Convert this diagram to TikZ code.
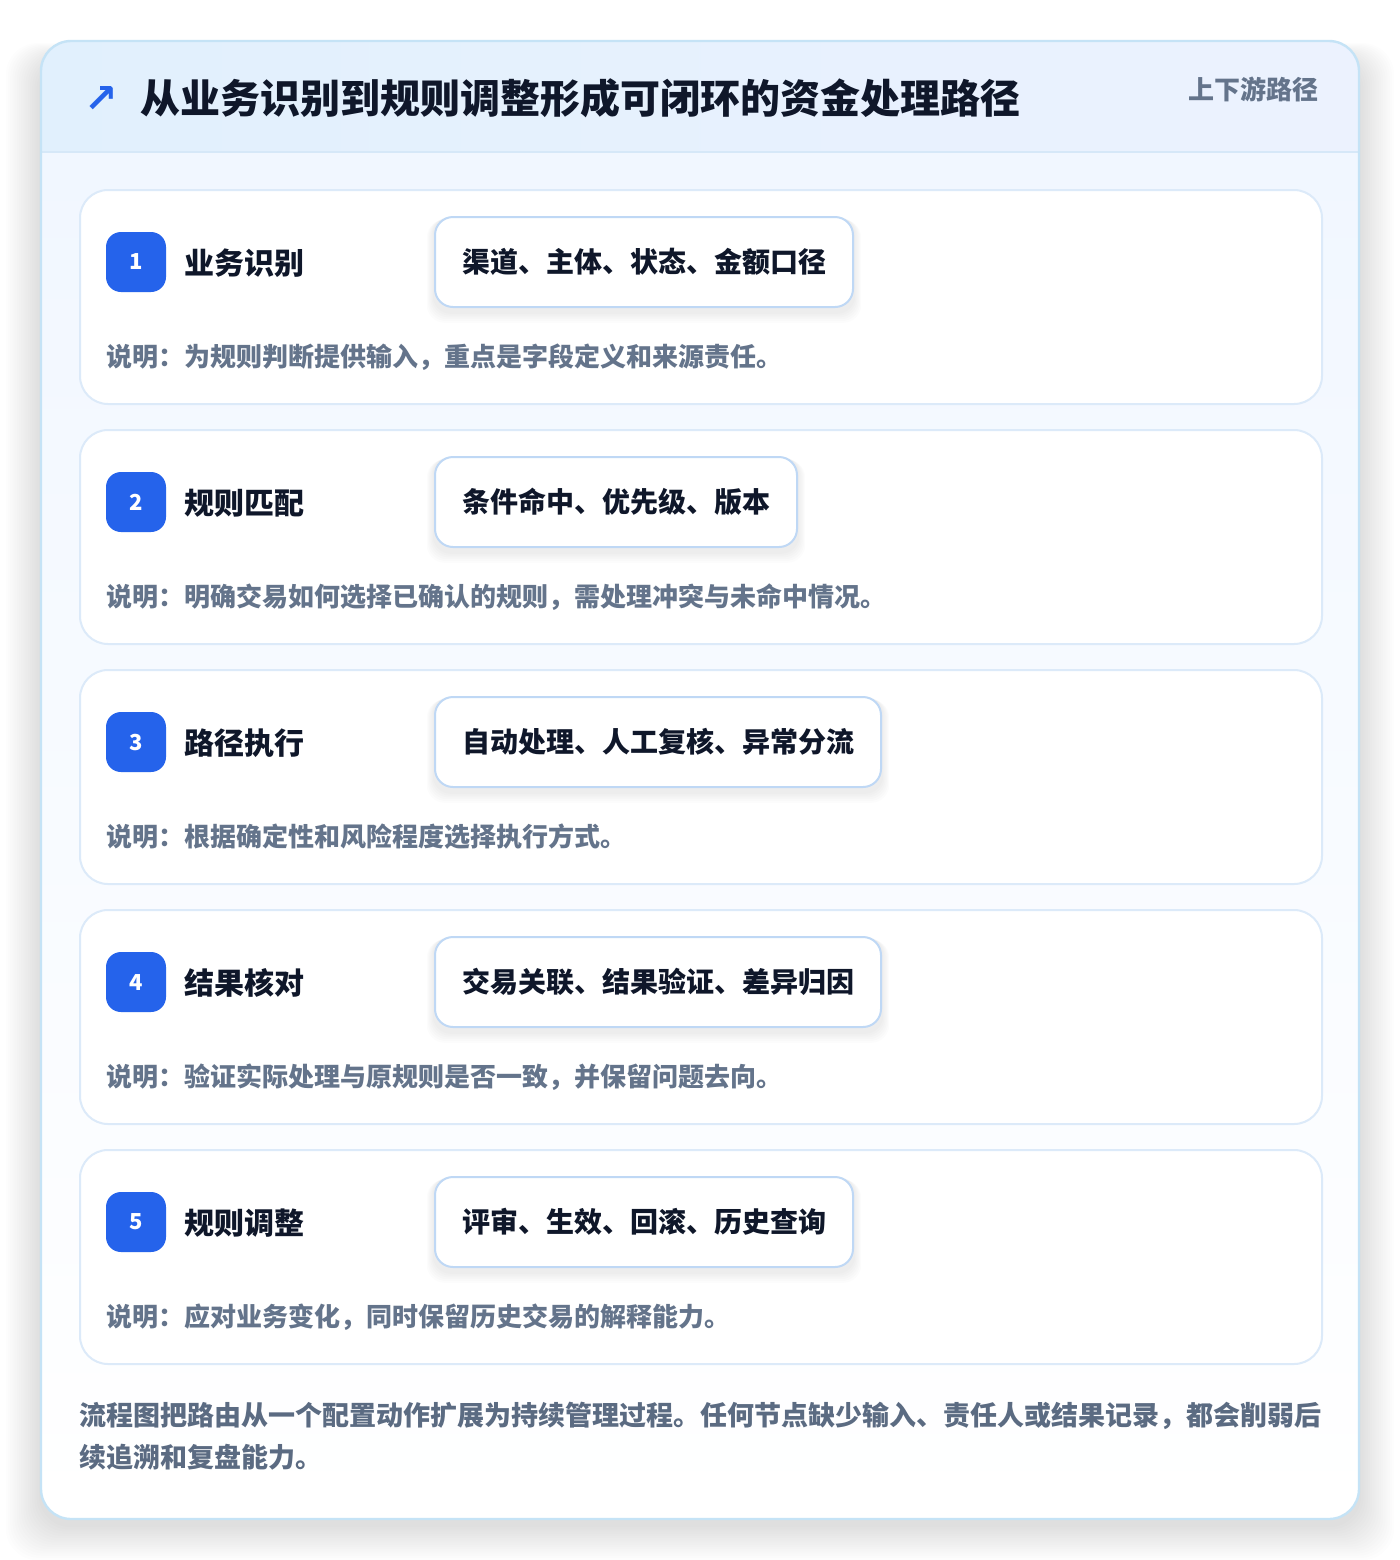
\documentclass[tikz,border=0pt]{standalone}
\usepackage{fontspec}
\setmainfont{Noto Sans CJK SC}
\newfontfamily\symfont{DejaVu Sans}
\definecolor{outerborder}{HTML}{C5E3F6}
\definecolor{hdrleft}{HTML}{E1F0FD}
\definecolor{hdrright}{HTML}{ECF2FE}
\definecolor{hdrline}{HTML}{D6E8F8}
\definecolor{bodytop}{HTML}{F1F7FF}
\definecolor{cardborder}{HTML}{DCEAF9}
\definecolor{tagborder}{HTML}{BFD8F5}
\definecolor{badgeblue}{HTML}{2563EB}
\definecolor{darktext}{HTML}{0F172A}
\definecolor{graytext}{HTML}{64748B}
\definecolor{foottext}{HTML}{5B6B82}
\pgfdeclarelayer{cardlayer}
\pgfdeclarelayer{shadowlayer}
\pgfsetlayers{cardlayer,shadowlayer,main}
\tikzset{
  card/.style={draw=cardborder, line width=1pt, fill=white, rounded corners=14pt,
    minimum width=621pt, minimum height=107pt, inner sep=0pt, anchor=north west},
  badge/.style={fill=badgeblue, rounded corners=7.5pt, minimum size=30pt, inner sep=0pt,
    text=white, font=\fontsize{11pt}{13pt}\selectfont\bfseries},
  steptitle/.style={anchor=west, inner sep=0pt, text=darktext,
    font=\fontsize{15pt}{18pt}\selectfont\bfseries},
  tagbox/.style={anchor=west, draw=tagborder, line width=1pt, fill=white, rounded corners=9pt,
    minimum height=45pt, inner xsep=13.5pt, inner ysep=0pt, text=darktext,
    font=\fontsize{14pt}{17pt}\selectfont\bfseries},
  desctext/.style={anchor=west, inner sep=0pt, text=graytext,
    font=\fontsize{13pt}{15pt}\selectfont\bfseries},
}
\begin{document}
\begin{tikzpicture}[x=0.5pt,y=-0.5pt]
\useasboundingbox (0,0) rectangle (1400,1560);
\begin{pgfonlayer}{cardlayer}
\fill[white] (0,0) rectangle (1400,1560);
% soft shadow of the outer card
\foreach \i in {1,...,16}{
  \fill[black, opacity=0.008, rounded corners=16pt]
    (41-\i*2.2, 41+18-\i*1.0) rectangle (1359+\i*2.2, 1519+6+\i*2.2);
}
% outer card
\begin{scope}
  \clip[rounded corners=15pt] (41,41) rectangle (1359,1519);
  \shade[top color=bodytop, bottom color=white] (41,152) rectangle (1359,1519);
  \shade[left color=hdrleft, right color=hdrright] (41,41) rectangle (1359,152);
  \draw[hdrline, line width=1pt] (41,152) -- (1359,152);
\end{scope}
\draw[outerborder, line width=1.2pt, rounded corners=15pt] (41,41) rectangle (1359,1519);
\end{pgfonlayer}
% header
\node[text=badgeblue, inner sep=0pt] (icon) at (101,99) {\symfont\bfseries\fontsize{20pt}{22pt}\selectfont ↗};
\node[anchor=west, inner sep=0pt, text=darktext, font=\fontsize{20pt}{23pt}\selectfont\bfseries]
  (title) at (140,98) {从业务识别到规则调整形成可闭环的资金处理路径};
\node[anchor=east, inner sep=0pt, text=graytext, font=\fontsize{13pt}{15pt}\selectfont\bfseries]
  (side) at (1319,89) {上下游路径};
% step cards
\foreach \i/\yt/\ttl/\tg/\ds in {
  1/189/业务识别/渠道、主体、状态、金额口径/说明：为规则判断提供输入，重点是字段定义和来源责任。,
  2/429/规则匹配/条件命中、优先级、版本/说明：明确交易如何选择已确认的规则，需处理冲突与未命中情况。,
  3/669/路径执行/自动处理、人工复核、异常分流/说明：根据确定性和风险程度选择执行方式。,
  4/909/结果核对/交易关联、结果验证、差异归因/说明：验证实际处理与原规则是否一致，并保留问题去向。,
  5/1149/规则调整/评审、生效、回滚、历史查询/说明：应对业务变化，同时保留历史交易的解释能力。}{
  \begin{pgfonlayer}{cardlayer}
    \node[card] (card\i) at (79,\yt) {};
  \end{pgfonlayer}
  \node[badge] (badge\i) at (136,\yt+73) {\i};
  \node[steptitle] (step\i) at (184,\yt+74) {\ttl};
  \node[tagbox] (tag\i) at (434,\yt+73) {\tg};
  \node[desctext] (desc\i) at (106,\yt+168) {\ds};
  \begin{pgfonlayer}{shadowlayer}
    \foreach \j in {1,...,6}{
      \fill[black, opacity=0.012, rounded corners=9pt]
        ([xshift=-\j*0.6pt, yshift=-\j*0.9pt-2pt]tag\i.south west)
        rectangle ([xshift=\j*0.6pt, yshift=-\j*0.3pt]tag\i.north east);
    }
  \end{pgfonlayer}
}
% footer
\node[anchor=north west, inner sep=0pt, align=left, text=foottext,
  font=\fontsize{13.5pt}{21pt}\selectfont\bfseries] (foot) at (79,1402)
  {流程图把路由从一个配置动作扩展为持续管理过程。任何节点缺少输入、责任人或结果记录，都会削弱后\\续追溯和复盘能力。};
\end{tikzpicture}
\end{document}
